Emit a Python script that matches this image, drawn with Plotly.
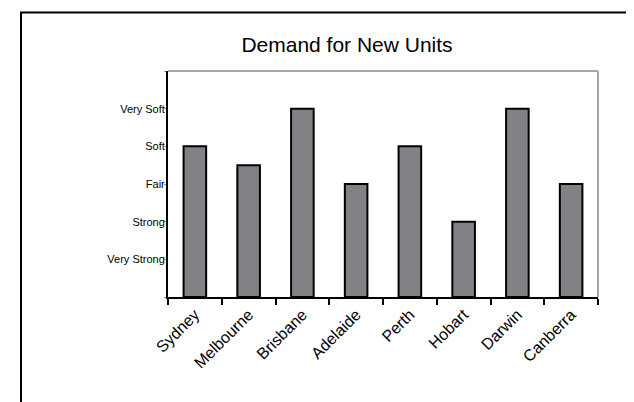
import plotly.graph_objects as go

cities = ["Sydney", "Melbourne", "Brisbane", "Adelaide", "Perth", "Hobart", "Darwin", "Canberra"]
demand = [4, 3.5, 5, 3, 4, 2, 5, 3]
tick_vals = [0, 1, 2, 3, 4, 5, 6]
tick_text = ["", "Very Strong", "Strong", "Fair", "Soft", "Very Soft", ""]

W, H = 634, 402
OFF = 8  # page offset of the figure
L, T = 168 - OFF, 71 - OFF
pw, ph = 430, 226
R = W - L - pw
B = H - T - ph

def px(x):
    return (x - OFF - L) / pw

def py(y):
    return (T + ph - (y - OFF)) / ph

fig = go.Figure(go.Bar(
    x=cities, y=demand,
    marker=dict(color="#808285", line=dict(color="black", width=2)),
    width=0.42,
))

fig.update_layout(
    width=W, height=H,
    margin=dict(l=L, r=R, t=T, b=B),
    paper_bgcolor="white", plot_bgcolor="white",
    font=dict(family="Liberation Sans, Arial", color="black"),
    showlegend=False,
    title=dict(text="Demand for New Units", x=px(347), xref="paper", xanchor="center",
               y=1 - (45 - OFF) / H, yref="container", yanchor="middle",
               font=dict(size=21, family="Liberation Sans, Arial", color="black")),
    xaxis=dict(showline=True, linecolor="black", linewidth=2, ticks="outside",
               tickson="boundaries", ticklen=6, tickwidth=2, tickcolor="black",
               tickangle=-45, tickfont=dict(size=16), showgrid=False),
    yaxis=dict(range=[0, 6], showline=True, linecolor="black", linewidth=2,
               tickmode="array", tickvals=tick_vals, ticktext=tick_text,
               ticks="outside", ticklen=2, tickwidth=1, tickcolor="#999999",
               ticklabelstandoff=-3,
               tickfont=dict(size=11), showgrid=False, zeroline=False),
    shapes=[
        dict(type="line", xref="paper", yref="paper", x0=0, x1=1, y0=1, y1=1,
             line=dict(color="#a6a6a6", width=2)),
        dict(type="line", xref="paper", yref="paper", x0=1, x1=1, y0=0, y1=1,
             line=dict(color="#a6a6a6", width=2)),
        dict(type="rect", xref="paper", yref="paper", x0=px(21), x1=px(660),
             y0=py(430), y1=py(12.5), line=dict(color="black", width=2),
             fillcolor="rgba(0,0,0,0)", layer="below"),
    ],
)

fig.write_html("out.html")
